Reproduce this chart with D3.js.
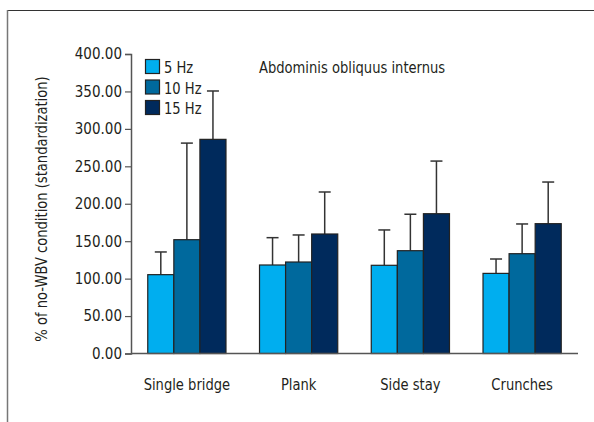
<!DOCTYPE html>
<html><head><meta charset="utf-8">
<script src="https://cdn.jsdelivr.net/npm/d3@7"></script>
<style>
html,body{margin:0;padding:0;background:#fff;}
svg{display:block;}
text{font-family:"Liberation Sans Narrow","DejaVu Sans Condensed",sans-serif;fill:#231f20;}
</style></head>
<body>
<svg id="c" width="594" height="422"></svg>
<script>
const categories = ["Single bridge", "Plank", "Side stay", "Crunches"];
const seriesNames = ["5 Hz", "10 Hz", "15 Hz"];
const means5 = [105.3, 118.2, 117.8, 107.0];
const means10 = [152.0, 122.2, 137.3, 133.3];
const means15 = [286.0, 159.6, 186.7, 173.4];
const upper5 = [135.6, 154.7, 165.0, 126.2];
const upper10 = [281.0, 158.3, 186.0, 173.0];
const upper15 = [350.6, 215.7, 257.0, 229.0];
const yTicks = [0, 50, 100, 150, 200, 250, 300, 350, 400];
const colors = ["#00aeef", "#00699d", "#002a5c"];
const title = "Abdominis obliquus internus";
const yLabel = "% of no-WBV condition (standardization)";

const means = [means5, means10, means15];
const uppers = [upper5, upper10, upper15];

const svg = d3.select("#c");
const squeeze = 0.91;
function narrow(sel) {
  sel.each(function() {
    const L = this.getComputedTextLength();
    d3.select(this).attr("textLength", L * squeeze).attr("lengthAdjust", "spacingAndGlyphs");
  });
}

// frame
svg.append("line").attr("x1", 7).attr("x2", 594).attr("y1", 10.5).attr("y2", 10.5)
  .attr("stroke", "#333").attr("stroke-width", 1.2);
svg.append("line").attr("x1", 7.5).attr("x2", 7.5).attr("y1", 10).attr("y2", 422)
  .attr("stroke", "#777").attr("stroke-width", 1.5);

const x0 = d3.scaleBand().domain(categories).range([131, 578]).paddingInner(0.3).paddingOuter(0.15);
const x1 = d3.scaleBand().domain(d3.range(3)).range([0, x0.bandwidth()]);
const y = d3.scaleLinear().domain([0, 400]).range([353.5, 54]);

// y axis
const yAxis = d3.axisLeft(y).tickValues(yTicks).tickFormat(d3.format(".2f")).tickSize(6).tickPadding(3);
const gy = svg.append("g").attr("transform", "translate(131,0)").call(yAxis);
gy.select(".domain").attr("stroke", "#555").attr("stroke-width", 1.5);
gy.selectAll(".tick line").attr("stroke", "#555").attr("stroke-width", 1.2);
gy.selectAll(".tick text").attr("font-size", 15).attr("fill", "#231f20")
  .attr("font-family", "Liberation Sans Narrow, DejaVu Sans Condensed, sans-serif");

// bars
const groups = svg.append("g").selectAll("g").data(categories).join("g")
  .attr("transform", d => `translate(${x0(d)},0)`);

groups.each(function(cat, ci) {
  const g = d3.select(this);
  for (let s = 0; s < 3; s++) {
    const bx = x1(s);
    const bw = x1.bandwidth();
    const cx = bx + bw / 2;
    g.append("line").attr("x1", cx).attr("x2", cx)
      .attr("y1", y(means[s][ci])).attr("y2", y(uppers[s][ci]))
      .attr("stroke", "#333").attr("stroke-width", 1.5);
    g.append("line").attr("x1", cx - 6).attr("x2", cx + 6)
      .attr("y1", y(uppers[s][ci])).attr("y2", y(uppers[s][ci]))
      .attr("stroke", "#333").attr("stroke-width", 1.5);
    g.append("rect").attr("x", bx).attr("width", bw)
      .attr("y", y(means[s][ci])).attr("height", y(0) - y(means[s][ci]))
      .attr("fill", colors[s]).attr("stroke", "#222").attr("stroke-width", 1.2);
  }
});

// x axis
svg.append("line").attr("x1", 131).attr("x2", 578).attr("y1", y(0)).attr("y2", y(0))
  .attr("stroke", "#555").attr("stroke-width", 1.5);

svg.append("g").selectAll("text").data(categories).join("text")
  .attr("x", d => x0(d) + x0.bandwidth() / 2).attr("y", 390)
  .attr("text-anchor", "middle").attr("font-size", 16).text(d => d).call(narrow);

// legend
const lg = svg.append("g");
seriesNames.forEach((n, i) => {
  lg.append("rect").attr("x", 145.5).attr("y", 59.5 + i * 20.5).attr("width", 14).attr("height", 14)
    .attr("fill", colors[i]).attr("stroke", "#222").attr("stroke-width", 1.2);
  lg.append("text").attr("x", 164).attr("y", 73 + i * 20.5).attr("font-size", 16).text(n).call(narrow);
});

// title
svg.append("text").attr("x", 259).attr("y", 73).attr("font-size", 16).text(title).call(narrow);

// y label
svg.append("text").attr("transform", "translate(47,209) rotate(-90)")
  .attr("text-anchor", "middle").attr("font-size", 16).text(yLabel).call(narrow);
</script>
</body></html>
